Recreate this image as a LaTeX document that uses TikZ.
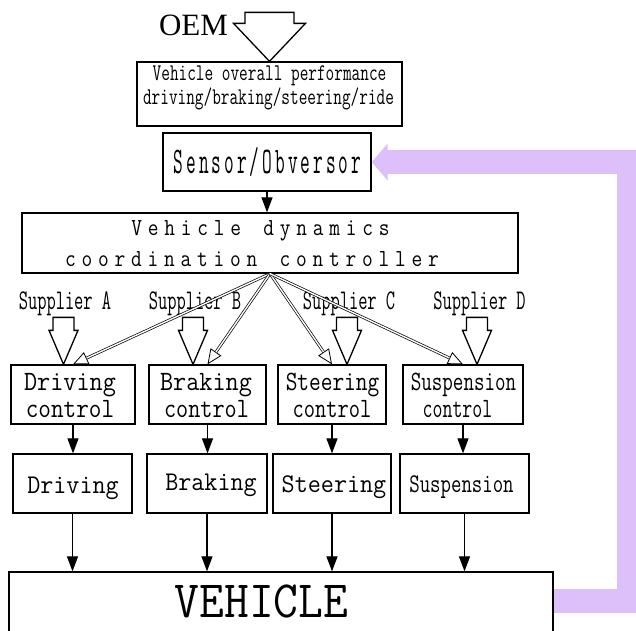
\documentclass[tikz,border=0pt]{standalone}
\usepackage{fontspec}
\usepackage{graphicx}
\usetikzlibrary{arrows.meta,calc}
\newfontfamily\oemfont{Liberation Serif}
\definecolor{feedback}{RGB}{221,192,250}

% monospaced label: size, horizontal scale, text
\newcommand\mono[3]{\fontsize{#1}{#1}\ttfamily\scalebox{#2}[1]{#3}}
% each character centred in a cell of fixed width (~ stands for a space)
\makeatletter
\newcommand\pitched[2]{\@tfor\pt@c:=#2\do{\makebox[#1][c]{\pt@c}}}
\makeatother
% spread-out monospaced label: size, horizontal scale, cell width, text
\newcommand\spaced[4]{\fontsize{#1}{#1}\ttfamily\scalebox{#2}[1]{\pitched{#3}{#4}}}
% block arrow pointing down: tip, half shaft, half head, head length, total length
\newcommand\hollowarrow[5]{%
  \filldraw[hollow] (#1) -- ++({-#3},{-#4}) -- ++({#3-#2},0) -- ++(0,{#4-#5})
    -- ++({2*#2},0) -- ++(0,{#5-#4}) -- ++({#3-#2},0) -- cycle;}

\begin{document}
\begin{tikzpicture}[x=1pt,y=-1pt,
  box/.style={draw=black, line width=1.3pt, rectangle, inner sep=0pt},
  txt/.style={anchor=base, inner sep=0pt},
  blk/.style={line width=1.2pt, -{Triangle[length=15pt,width=11pt]}},
  fanline/.style={line width=0.7pt, -{Triangle[open,length=15pt,width=13pt,line width=0.8pt]}},
  fandouble/.style={double=white, double distance=1.4pt, line width=0.7pt, shorten >=15pt},
  hollow/.style={draw=black, fill=white, line width=1.3pt, line join=miter},
  fb/.style={draw=feedback, line width=24pt, line join=miter, -{Triangle[length=16pt,width=36pt]}}]

\useasboundingbox (0,0) rectangle (636,630);
\clip (0,0) rectangle (636,630);
\fill[white] (0,0) rectangle (636,630);

% boxes
\node[box, minimum width=265pt, minimum height=64pt] (perf) at (269.5,94) {};
\node[box, minimum width=208pt, minimum height=58pt] (sensor) at (267,162) {};
\node[box, minimum width=496pt, minimum height=60pt] (ctrl) at (270,243) {};

\node[box, minimum width=124pt, minimum height=59pt] (dc) at (73,394.5) {};
\node[box, minimum width=117pt, minimum height=59pt] (bc) at (207.5,394.5) {};
\node[box, minimum width=108pt, minimum height=59pt] (sc) at (332,394.5) {};
\node[box, minimum width=120pt, minimum height=59pt] (uc) at (463,394.5) {};

\node[box, minimum width=119pt, minimum height=59pt] (dr) at (72.5,483.5) {};
\node[box, minimum width=120pt, minimum height=59pt] (br) at (207,483.5) {};
\node[box, minimum width=118pt, minimum height=59pt] (st) at (332,483.5) {};
\node[box, minimum width=129pt, minimum height=59pt] (su) at (464.5,483.5) {};

\node[box, minimum width=544pt, minimum height=64pt] (veh) at (281,604) {};

% feedback path from the vehicle back to the sensor
\coordinate (fbturn) at (629,162);
\draw[fb] ([yshift=3pt]veh.east) -| (fbturn) -- (sensor.east);

% labels
\node[txt] (oem) at (193.5,35) {\oemfont\fontsize{31}{31}\selectfont OEM};
\node[txt] (perfa) at (269.5,80.5) {\mono{24}{0.70}{Vehicle overall performance}};
\node[txt] (perfb) at (268.5,104) {\mono{24}{0.70}{driving/braking/steering/ride}};
\node[txt] (sensort) at (267.5,173) {\spaced{37.6}{0.5}{25.4pt}{Sensor/Obversor}};
\node[txt] (ctrla) at (260.5,235) {\spaced{24.5}{0.85}{19.4pt}{Vehicle~dynamics}};
\node[txt] (ctrlb) at (252,266) {\spaced{24.5}{0.85}{19.4pt}{coordination~controller}};

\node[txt] (supa) at (65,309) {\mono{28.5}{0.63}{Supplier A}};
\node[txt] (supb) at (195,309) {\mono{28.5}{0.63}{Supplier B}};
\node[txt] (supc) at (349,309) {\mono{28.5}{0.63}{Supplier C}};
\node[txt] (supd) at (479.5,309) {\mono{28.5}{0.63}{Supplier D}};

\node[txt] (dca) at (70,390) {\mono{28}{0.91}{Driving}};
\node[txt] (dcb) at (70,417) {\mono{28}{0.875}{control}};
\node[txt] (bca) at (206,390) {\mono{28}{0.91}{Braking}};
\node[txt] (bcb) at (206.5,417) {\mono{28}{0.84}{control}};
\node[txt] (sca) at (332.5,390) {\mono{28}{0.81}{Steering}};
\node[txt] (scb) at (332,417) {\mono{28}{0.78}{control}};
\node[txt] (uca) at (463.5,390) {\mono{28}{0.73}{Suspension}};
\node[txt] (ucb) at (457.5,417) {\mono{28}{0.69}{control}};

\node[txt] (drt) at (73,493) {\mono{27}{0.94}{Driving}};
\node[txt] (brt) at (211,490) {\mono{27}{0.94}{Braking}};
\node[txt] (stt) at (334,492) {\mono{27}{0.94}{Steering}};
\node[txt] (sut) at (461.5,492) {\mono{27}{0.75}{Suspension}};

\node[txt] (veht) at (261.5,617) {\mono{52.4}{0.92}{VEHICLE}};

% signal arrows
\draw[blk] (sensor.south) -- (sensor.south |- ctrl.north);
\foreach \a/\b in {dc/dr, bc/br, sc/st, uc/su}
  \draw[blk] (\a.south) -- (\a.south |- \b.north);
\foreach \b in {dr, br, st, su}
  \draw[blk] (\b.south) -- (\b.south |- veh.north);

% coordination commands fanning out from the controller
\foreach \t in {dc, bc, sc, uc} {
  \draw[fanline] (ctrl.south) -- (\t.north);
  \draw[fandouble] (ctrl.south) -- (\t.north);
}

% block arrows: OEM requirements and supplier inputs
\hollowarrow{perf.north}{24.5}{36}{38}{49}
\coordinate (tipa) at ($(dc.north)+(-9.5,0)$);
\coordinate (tipb) at ($(bc.north)+(-14.5,0)$);
\coordinate (tipc) at ($(sc.north)+(15,0)$);
\coordinate (tipd) at ($(uc.north)+(14,0)$);
\foreach \p in {tipa, tipb, tipc, tipd} {
  \hollowarrow{\p}{10.5}{14.5}{34}{47}
}

\end{tikzpicture}
\end{document}
